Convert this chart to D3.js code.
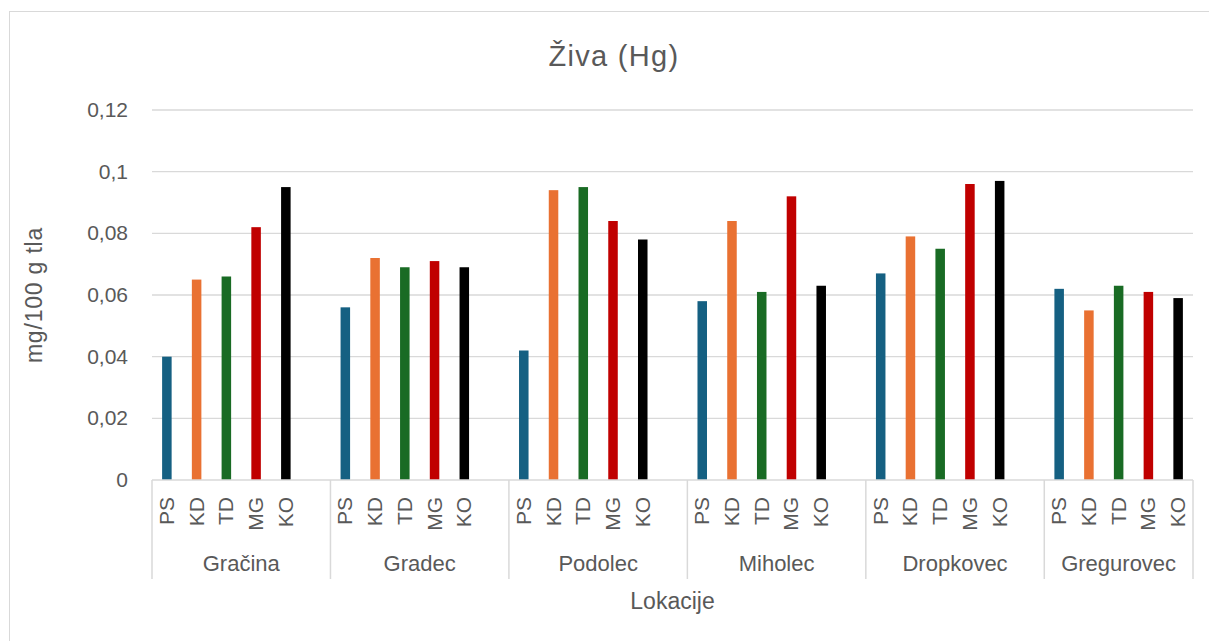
<!DOCTYPE html>
<html>
    <head>
        <meta charset="utf-8">
        <script src="https://cdn.jsdelivr.net/npm/d3@7/dist/d3.min.js"></script>
    </head>
    <style>
        body { margin: 0; background: #fff; }
        text { font-family: 'Liberation Sans', Arial, sans-serif; fill: #595959; }
    </style>
    <body>
        <div id="canvas"></div>
        <script>
            // data
            var locations = ['Gračina', 'Gradec', 'Podolec', 'Miholec', 'Dropkovec', 'Gregurovec'];
            var treatments = ['PS', 'KD', 'TD', 'MG', 'KO'];
            var PS = [0.040, 0.056, 0.042, 0.058, 0.067, 0.062];
            var KD = [0.065, 0.072, 0.094, 0.084, 0.079, 0.055];
            var TD = [0.066, 0.069, 0.095, 0.061, 0.075, 0.063];
            var MG = [0.082, 0.071, 0.084, 0.092, 0.096, 0.061];
            var KO = [0.095, 0.069, 0.078, 0.063, 0.097, 0.059];
            var yTicks = [0, 0.02, 0.04, 0.06, 0.08, 0.1, 0.12];
            var yTickLabels = ['0', '0,02', '0,04', '0,06', '0,08', '0,1', '0,12'];

            var series = { PS: PS, KD: KD, TD: TD, MG: MG, KO: KO };
            var colors = { PS: '#156082', KD: '#e97132', TD: '#196b24', MG: '#c00000', KO: '#000000' };

            const w = 1209;
            const h = 641;
            const plotL = 152, plotR = 1193, plotT = 110, plotB = 480;

            const svg = d3.select('#canvas')
                .append('svg')
                .attr('width', w)
                .attr('height', h);

            // chart frame (cropped on the right and bottom)
            svg.append('rect')
                .attr('x', 9.5).attr('y', 11.5)
                .attr('width', 1220).attr('height', 660)
                .attr('fill', 'none')
                .attr('stroke', '#d9d9d9');

            // slots: 5 treatments + one empty slot between groups
            var slots = [];
            locations.forEach((loc, i) => {
                treatments.forEach(t => slots.push(loc + '|' + t));
                if (i < locations.length - 1) slots.push(loc + '|gap');
            });

            var x = d3.scaleBand().domain(slots).range([plotL, plotR]).padding(0);
            var y = d3.scaleLinear().domain([0, 0.12]).range([plotB, plotT]);
            var barW = x.bandwidth() * 0.32;

            // gridlines + y labels
            svg.append('g')
                .selectAll('line')
                .data(yTicks.slice(1))
                .enter()
                .append('line')
                .attr('x1', plotL).attr('x2', plotR)
                .attr('y1', d => y(d)).attr('y2', d => y(d))
                .attr('stroke', '#d9d9d9')
                .attr('stroke-width', 1.3);

            svg.append('g')
                .selectAll('text')
                .data(yTicks)
                .enter()
                .append('text')
                .text((d, i) => yTickLabels[i])
                .attr('x', 128)
                .attr('y', d => y(d) + 7)
                .attr('text-anchor', 'end')
                .attr('font-size', '21px');

            // bars
            var bars = [];
            locations.forEach((loc, i) => {
                treatments.forEach(t => bars.push({ loc: loc, t: t, v: series[t][i] }));
            });

            svg.append('g')
                .selectAll('rect')
                .data(bars)
                .enter()
                .append('rect')
                .attr('x', d => x(d.loc + '|' + d.t) + (x.bandwidth() - barW) / 2)
                .attr('y', d => y(d.v))
                .attr('width', barW)
                .attr('height', d => y(0) - y(d.v))
                .attr('fill', d => colors[d.t]);

            // category axis
            svg.append('line')
                .attr('x1', plotL).attr('x2', plotR)
                .attr('y1', plotB).attr('y2', plotB)
                .attr('stroke', '#d9d9d9')
                .attr('stroke-width', 1.5);

            var groupEdges = locations.map(loc => x(loc + '|PS'));
            groupEdges.push(plotR);
            svg.append('g')
                .selectAll('line')
                .data(groupEdges)
                .enter()
                .append('line')
                .attr('x1', d => d).attr('x2', d => d)
                .attr('y1', plotB).attr('y2', 579)
                .attr('stroke', '#d9d9d9')
                .attr('stroke-width', 1.5);

            // treatment labels (rotated)
            svg.append('g')
                .selectAll('text')
                .data(bars)
                .enter()
                .append('text')
                .text(d => d.t)
                .attr('transform', d => {
                    var cx = x(d.loc + '|' + d.t) + x.bandwidth() / 2 + 7;
                    return 'translate(' + cx + ',497) rotate(-90)';
                })
                .attr('text-anchor', 'end')
                .attr('font-size', '21px');

            // location labels
            svg.append('g')
                .selectAll('text')
                .data(locations)
                .enter()
                .append('text')
                .text(d => d)
                .attr('x', (d, i) => (groupEdges[i] + groupEdges[i + 1]) / 2)
                .attr('y', 571)
                .attr('text-anchor', 'middle')
                .attr('font-size', '22px');

            // titles
            svg.append('text')
                .text('Živa (Hg)')
                .attr('x', 614).attr('y', 66)
                .attr('text-anchor', 'middle')
                .attr('font-size', '29px')
                .attr('letter-spacing', '1.3px');

            svg.append('text')
                .text('Lokacije')
                .attr('x', (plotL + plotR) / 2).attr('y', 609)
                .attr('text-anchor', 'middle')
                .attr('font-size', '23px');

            svg.append('text')
                .text('mg/100 g tla')
                .attr('transform', 'translate(42,' + y(0.06) + ') rotate(-90)')
                .attr('text-anchor', 'middle')
                .attr('font-size', '23px')
                .attr('letter-spacing', '0.8px');
        </script>
    </body>
</html>
